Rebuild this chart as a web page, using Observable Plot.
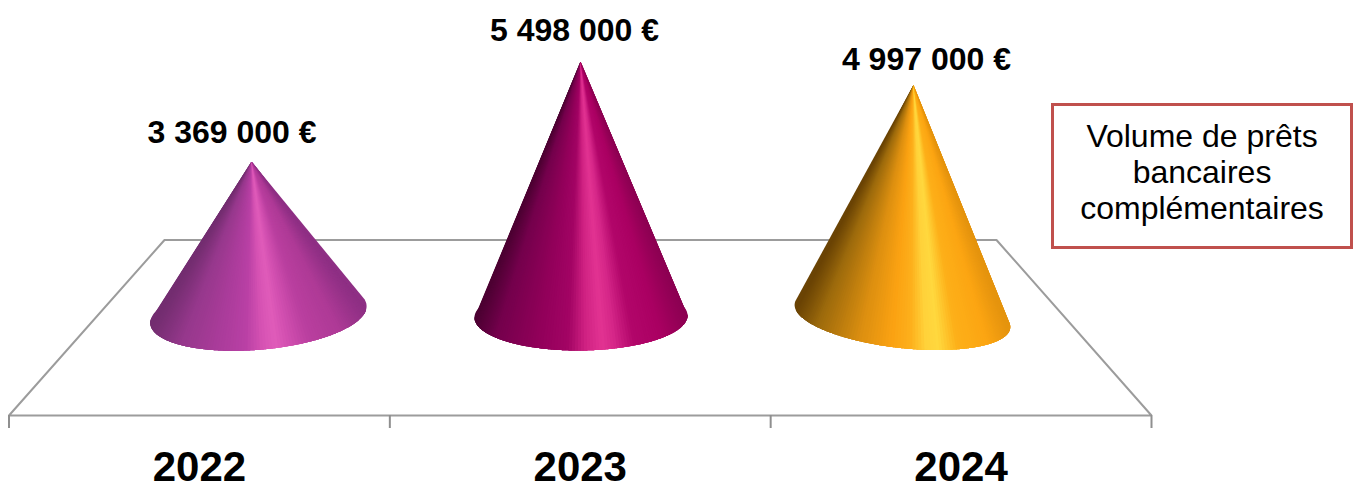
<!DOCTYPE html>
<html lang="fr">
<head>
<meta charset="utf-8">
<title>Volume de prêts bancaires complémentaires</title>
<script src="https://cdn.jsdelivr.net/npm/d3@7"></script>
<script src="https://cdn.jsdelivr.net/npm/@observablehq/plot@0.6"></script>
<style>
  html, body { margin: 0; padding: 0; background: #fff; }
  #chart { position: relative; width: 1359px; height: 483px; overflow: hidden; }
  #chart svg { display: block; }
  #box {
    position: absolute; left: 1051px; top: 103px; width: 296px;
    border: 3px solid #C0504D; background: #fff; text-align: center;
    font: 32px/36px "Liberation Sans", Arial, sans-serif; color: #000;
    padding-top: 12px; box-sizing: content-box; height: 128px;
  }
</style>
</head>
<body>
<div id="chart"></div>
<script>
// Data
const years = ["2022", "2023", "2024"];
const values = [3369000, 5498000, 4997000];
const boxLines = ["Volume de prêts", "bancaires", "complémentaires"];
const yearSlots = [0.5, 1.5, 2.5];
const slotTicks = [0, 1, 2, 3];

// Colour ramps across each cone, left edge to right edge
const rampStops = [
  [[0, "#732d70"], [0.14, "#96388c"], [0.32, "#ab3c9b"], [0.44, "#b940a5"], [0.52, "#d652b3"], [0.58, "#e05cba"], [0.64, "#d24fb0"], [0.74, "#b93f9f"], [0.88, "#ae3a96"], [1, "#8e2f84"]],
  [[0, "#4c0032"], [0.1, "#74004c"], [0.3, "#92005a"], [0.44, "#a30464"], [0.52, "#cf2182"], [0.6, "#e23392"], [0.66, "#d52688"], [0.75, "#b2066a"], [0.88, "#aa0062"], [1, "#8c0052"]],
  [[0, "#6a4304"], [0.1, "#9c6a0c"], [0.3, "#dc8f10"], [0.45, "#fba212"], [0.54, "#fdb01c"], [0.61, "#ffd23a"], [0.67, "#ffd83e"], [0.76, "#fdb019"], [0.9, "#fca512"], [1, "#e5940e"]]
];

// Perspective layout of the 3D scene, in x-slot / euro units
const apexX = [0.637, 1.5007, 2.375];
const baseX = [0.655, 1.502, 2.346];
const baseY = [110700, 68100, 78800];
const spanU = [[0.2825, 100000], [0.2797, 21300], [0.28, -130000]];
const spanV = [[-0.0289, -766500], [0, -723900], [0.042, -713200]];
const labelX = [0.5856, 1.485, 2.409];
const labelLift = [619000, 647000, 534000];
const yearLabelY = -3138000;
const floorFrontY = -2039600;
const floorBackY = 1696800;
const floorBackX = [0.4083, 2.593];
const tickBottomY = -2316400;

const labels = values.map(v => d3.format(",")(v).replace(/,/g, " ") + " €");

const floor = [
  {x: 0, y: floorFrontY},
  {x: floorBackX[0], y: floorBackY},
  {x: floorBackX[1], y: floorBackY},
  {x: 3, y: floorFrontY},
  {x: 0, y: floorFrontY}
];

function coneSlices(i) {
  const ramp = d3.scaleLinear().domain(rampStops[i].map(d => d[0])).range(rampStops[i].map(d => d[1])).interpolate(d3.interpolateRgb).clamp(true);
  const point = th => ({
    x: baseX[i] + Math.cos(th) * spanU[i][0] + Math.sin(th) * spanV[i][0],
    y: baseY[i] + Math.cos(th) * spanU[i][1] + Math.sin(th) * spanV[i][1]
  });
  const n = 110, pad = 0.3, under = 0.12, rows = [];
  const left = point(Math.PI).x, right = point(0).x;
  // End slices first: they carry the silhouette to the tangent and run on under the front slices
  const steps = [
    {a: Math.PI + pad, b: Math.PI - under, t: 0},
    {a: -pad, b: under, t: 1}
  ];
  for (let k = 0; k < n; ++k) {
    // Every slice runs on under its right-hand neighbour, so no seam can show
    const a = Math.PI * (1 - k / n), b = Math.PI * (1 - Math.min(k + 4, n) / n);
    const t = (point(Math.PI * (1 - (k + 0.5) / n)).x - left) / (right - left);
    steps.push({a, b, t});
  }
  steps.forEach(({a, b, t}, k) => {
    const color = ramp(t);
    const key = `${i}-${String(k).padStart(3, "0")}`;
    const rim = d3.range(0, 17).map(j => point(a + (b - a) * j / 16));
    rows.push({key, color, x: apexX[i], y: values[i]}, ...rim.map(r => ({key, color, ...r})));
  });
  return rows;
}
const slices = years.flatMap((_, i) => coneSlices(i));

const pxPerEuro = 4.697e-5, zeroPx = 319.2;

const plot = Plot.plot({
  width: 1359,
  height: 483,
  marginTop: 0, marginRight: 208, marginBottom: 0, marginLeft: 8.5,
  style: {background: "transparent", overflow: "visible"},
  x: {domain: [0, 3], axis: null},
  y: {domain: [(zeroPx - 483) / pxPerEuro, zeroPx / pxPerEuro], axis: null},
  color: {type: "identity"},
  marks: [
    Plot.line(floor, {x: "x", y: "y", stroke: "#9c9c9c", strokeWidth: 2, strokeLinejoin: "miter"}),
    Plot.ruleX(slotTicks, {x: d => d, y1: floorFrontY, y2: tickBottomY, stroke: "#8f8f8f", strokeWidth: 2}),
    Plot.line(slices, {x: "x", y: "y", z: "key", fill: "color", stroke: "none", curve: "linear-closed"}),
    Plot.text(labels, {
      x: (d, i) => labelX[i], y: (d, i) => values[i] + labelLift[i], text: d => d,
      fontFamily: "Liberation Sans", fontWeight: "bold", fontSize: 32, fill: "#000"
    }),
    Plot.text(years, {
      x: (d, i) => yearSlots[i], y: () => yearLabelY, text: d => d,
      fontFamily: "Liberation Sans", fontWeight: "bold", fontSize: 42, fill: "#000"
    })
  ]
});
const chart = document.getElementById("chart");
chart.append(plot);
const box = document.createElement("div");
box.id = "box";
box.innerHTML = boxLines.join("<br>");
chart.append(box);
</script>
</body>
</html>
